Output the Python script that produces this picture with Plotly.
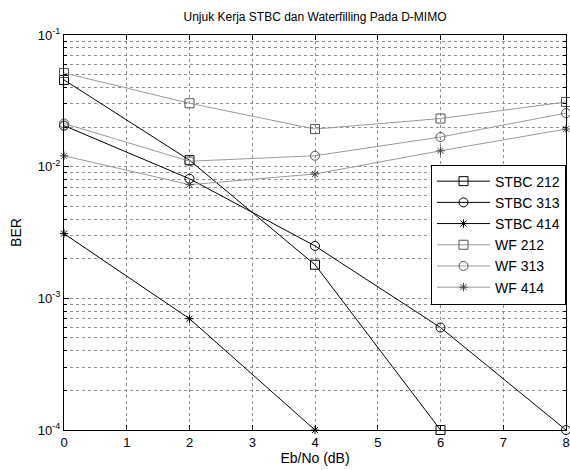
import plotly.graph_objects as go

ebno = [0, 2, 4, 6, 8]
stbc_212 = [0.0456, 0.0112, 0.0018, 0.0001, None]
stbc_313 = [0.0205, 0.0081, 0.0025, 0.0006, 0.0001]
stbc_414 = [0.0031, 0.0007, 0.0001, None, None]
wf_212 = [0.0515, 0.0303, 0.0193, 0.0232, 0.0310]
wf_313 = [0.0213, 0.0110, 0.0121, 0.0168, 0.0255]
wf_414 = [0.0121, 0.0073, 0.0088, 0.0132, 0.0193]

series = [
    ("STBC 212", stbc_212, "square-open", 9, "black", "black"),
    ("STBC 313", stbc_313, "circle-open", 9, "black", "black"),
    ("STBC 414", stbc_414, "asterisk-open", 7, "black", "black"),
    ("WF 212", wf_212, "square-open", 9, "#9a9a9a", "#555555"),
    ("WF 313", wf_313, "circle-open", 9, "#9a9a9a", "#555555"),
    ("WF 414", wf_414, "asterisk-open", 7, "#9a9a9a", "#444444"),
]

fig = go.Figure()
for name, vals, sym, sz, lc, mc in series:
    fig.add_trace(go.Scatter(
        x=ebno, y=vals, name=name, mode="lines+markers",
        line=dict(color=lc, width=1),
        marker=dict(symbol=sym, size=sz, color=mc, line=dict(color=mc, width=1)),
        cliponaxis=False,
    ))

minor_vals = [m * 10 ** e for e in (-4, -3, -2) for m in range(2, 10)]

font = dict(family="Liberation Sans, Arial, sans-serif", size=12, color="black")
fig.update_layout(
    width=570, height=470,
    margin=dict(l=64, r=4, t=35, b=40, autoexpand=False),
    paper_bgcolor="white", plot_bgcolor="white",
    font=font,
    title=dict(text="Unjuk Kerja STBC dan Waterfilling Pada D-MIMO", x=0.5526, xanchor="center",
               y=0.965, yanchor="middle", font=dict(size=12)),
    showlegend=True,
    legend=dict(x=1, xanchor="right", y=0.672, yanchor="top",
                bgcolor="white", bordercolor="black", borderwidth=1,
                font=dict(size=14), tracegroupgap=0, itemwidth=53),
    xaxis=dict(range=[0, 8], dtick=1, tick0=0, showline=True, linecolor="black", linewidth=1,
               mirror="ticks", ticks="inside", ticklen=5, tickcolor="black",
               showgrid=True, gridcolor="#8f8f8f", griddash="dot", gridwidth=1,
               zeroline=False, title=dict(text="Eb/No (dB)", standoff=4),
               tickfont=dict(size=13), automargin=False),
    yaxis=dict(type="log", range=[-4, -1], tickmode="array",
               tickvals=[1e-4, 1e-3, 1e-2, 1e-1],
               ticktext=["10<sup>-4</sup>", "10<sup>-3</sup>", "10<sup>-2</sup>", "10<sup>-1</sup>"],
               showline=True, linecolor="black", linewidth=1, mirror="ticks",
               ticks="inside", ticklen=5, tickcolor="black",
               showgrid=True, gridcolor="#8f8f8f", griddash="dot", gridwidth=1,
               zeroline=False, title=dict(text="BER", standoff=12),
               tickfont=dict(size=13), automargin=False,
               minor=dict(tickmode="array", tickvals=minor_vals, ticks="inside", ticklen=3,
                          tickcolor="black", showgrid=True, gridcolor="#8f8f8f",
                          griddash="dot", gridwidth=1)),
)

fig.write_html("out.html")
